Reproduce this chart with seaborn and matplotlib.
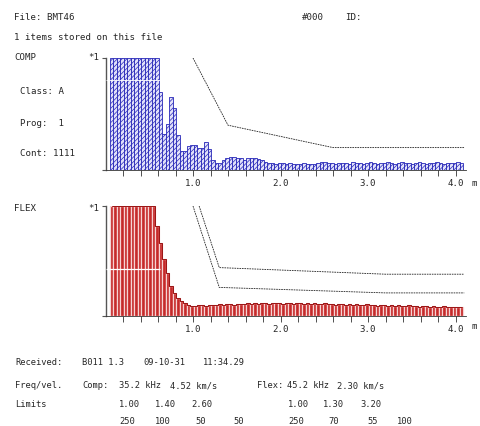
import numpy as np
import pandas as pd
import matplotlib.pyplot as plt
import seaborn as sns

sns.set_style("ticks")
plt.rcParams['font.family'] = ['DejaVu Sans Mono', 'DejaVu Sans']
plt.rcParams['hatch.linewidth'] = 0.5

# --- data ---
bin_start = 0.07   # centre of first bin (m)
bin_width = 0.04

comp = [
    1.00, 1.00, 1.00, 1.00, 1.00, 1.00, 1.00, 1.00, 1.00, 1.00,
    1.00, 1.00, 1.00, 1.00, 0.70, 0.32, 0.41, 0.65, 0.55, 0.31,
    0.17, 0.17, 0.21, 0.22, 0.22, 0.20, 0.20, 0.25, 0.19, 0.09,
    0.06, 0.06, 0.09, 0.11, 0.12, 0.12, 0.11, 0.11, 0.09, 0.11,
    0.11, 0.11, 0.10, 0.09, 0.07, 0.06, 0.06, 0.055, 0.06, 0.06,
    0.055, 0.06, 0.055, 0.05, 0.055, 0.06, 0.055, 0.05, 0.055, 0.06,
    0.07, 0.07, 0.06, 0.06, 0.055, 0.06, 0.065, 0.06, 0.055, 0.07,
    0.065, 0.06, 0.055, 0.06, 0.07, 0.06, 0.055, 0.06, 0.065, 0.07,
    0.06, 0.055, 0.06, 0.07, 0.065, 0.06, 0.055, 0.06, 0.07, 0.06,
    0.055, 0.06, 0.065, 0.07, 0.06, 0.055, 0.06, 0.065, 0.06, 0.07,
    0.06,
]

flex = [
    1.00, 1.00, 1.00, 1.00, 1.00, 1.00, 1.00, 1.00, 1.00, 1.00,
    1.00, 1.00, 1.00, 0.82, 0.66, 0.52, 0.39, 0.27, 0.21, 0.16,
    0.14, 0.12, 0.10, 0.09, 0.09, 0.10, 0.10, 0.09, 0.10, 0.10,
    0.10, 0.11, 0.10, 0.11, 0.11, 0.10, 0.11, 0.11, 0.11, 0.12,
    0.11, 0.12, 0.11, 0.12, 0.12, 0.11, 0.12, 0.12, 0.12, 0.11,
    0.12, 0.12, 0.11, 0.12, 0.12, 0.11, 0.12, 0.11, 0.12, 0.11,
    0.11, 0.12, 0.11, 0.11, 0.10, 0.11, 0.11, 0.10, 0.11, 0.10,
    0.11, 0.10, 0.10, 0.11, 0.10, 0.10, 0.09, 0.10, 0.10, 0.09,
    0.10, 0.09, 0.10, 0.09, 0.09, 0.10, 0.09, 0.09, 0.08, 0.09,
    0.09, 0.08, 0.09, 0.08, 0.08, 0.09, 0.08, 0.08, 0.08, 0.08,
    0.08,
]

# limit curves (fraction of full scale)
comp_lim_x = [1.0, 1.4, 2.6, 4.1]
comp_lim_y = [1.0, 0.40, 0.20, 0.20]
flex_lo_x = [1.0, 1.3, 3.2, 4.1]
flex_lo_y = [1.0, 0.26, 0.21, 0.21]
flex_hi_x = [1.07, 1.3, 3.2, 4.1]
flex_hi_y = [1.0, 0.44, 0.38, 0.38]

tick_pos = [0.2, 0.4, 0.6, 0.8, 1.0, 1.2, 1.4, 1.6, 1.8, 2.0,
            2.2, 2.4, 2.6, 2.8, 3.0, 3.2, 3.4, 3.6, 3.8, 4.0]
tick_lab = {1.0: "1.0", 2.0: "2.0", 3.0: "3.0", 4.0: "4.0"}

dist = np.round(bin_start + bin_width * np.arange(len(comp)), 3)
df = pd.DataFrame({"dist": dist, "comp": comp, "flex": flex})

W, H = 480, 427
fig = plt.figure(figsize=(W / 100, H / 100), dpi=100)


def px_axes(x0, y0, x1, y1):
    return fig.add_axes([x0 / W, 1 - y1 / H, (x1 - x0) / W, (y1 - y0) / H])


def txt(x, y, s, size=6.6, **kw):
    fig.text(x / W, 1 - y / H, s, ha='left', va='center', fontsize=size, **kw)


x0 = 105.5
x1 = x0 + 4.12 * 87.5
ax1 = px_axes(x0, 59, x1, 171)
ax2 = px_axes(x0, 207, x1, 317)

# COMP bars: blue hatched
sns.barplot(data=df, x="dist", y="comp", native_scale=True, orient="x",
            width=1, color="#e2e2fa", saturation=1, edgecolor="#2828b8",
            linewidth=0.6, hatch="///////", errorbar=None, ax=ax1)

# FLEX bars: red with light stripes between bars, dark red stair outline
sns.barplot(data=df, x="dist", y="flex", native_scale=True, orient="x",
            width=1, color="#c62a2a", saturation=1, edgecolor="#f6d2d2",
            linewidth=0.9, errorbar=None, ax=ax2)
sns.lineplot(data=df, x="dist", y="flex", ax=ax2, color="#9a1212", lw=0.7,
             drawstyle="steps-mid", estimator=None, sort=False)

ax1.hlines(0.80, 0.0, 0.62, color="white", lw=0.6, zorder=4)
ax2.hlines(0.43, 0.0, 0.62, color="white", lw=0.9, zorder=4)

ls = (0, (2, 1))
sns.lineplot(x=comp_lim_x, y=comp_lim_y, ax=ax1, color="#222222", lw=0.6,
             linestyle=ls, sort=False, estimator=None)
sns.lineplot(x=flex_lo_x, y=flex_lo_y, ax=ax2, color="#222222", lw=0.6,
             linestyle=ls, sort=False, estimator=None)
sns.lineplot(x=flex_hi_x, y=flex_hi_y, ax=ax2, color="#222222", lw=0.6,
             linestyle=ls, sort=False, estimator=None)

for ax in (ax1, ax2):
    ax.set_xlim(0, 4.12)
    ax.set_ylim(0, 1)
    ax.set_xticks(tick_pos)
    ax.set_xticklabels([tick_lab.get(t, "") for t in tick_pos])
    ax.set_yticks([0, 1])
    ax.set_yticklabels([])
    ax.tick_params(axis="x", length=4, width=0.6, color="#333333",
                   labelsize=6.6, pad=2)
    ax.tick_params(axis="y", length=3, width=0.8, color="#555555")
    ax.set_xlabel("")
    ax.set_ylabel("")
    for s in ("top", "right"):
        ax.spines[s].set_visible(False)
    ax.spines["left"].set_color("#555555")
    ax.spines["left"].set_linewidth(1.0)
    ax.spines["bottom"].set_color("#333333")
    ax.spines["bottom"].set_linewidth(0.6)
    ax.set_zorder(2)

# header / side text
txt(14, 18, "File: BMT46")
txt(302, 18, "#000")
txt(345, 18, "ID:")
txt(14, 38, "1 items stored on this file")
txt(14, 58, "COMP")
txt(88, 58, "*1")
txt(20, 91, "Class: A")
txt(20, 123, "Prog:  1")
txt(20, 154, "Cont: 1111")
txt(14, 209, "FLEX")
txt(88, 209, "*1")
txt(472, 183, "m")
txt(472, 327, "m")

# footer
fs = 6.3
txt(15, 363, "Received:", size=fs)
txt(82, 363, "B011 1.3", size=fs)
txt(143, 363, "09-10-31", size=fs)
txt(203, 363, "11:34.29", size=fs)
txt(15, 386, "Freq/vel.", size=fs)
txt(82, 386, "Comp:", size=fs)
txt(119, 386, "35.2 kHz", size=fs)
txt(170, 386, "4.52 km/s", size=fs)
txt(257, 386, "Flex:", size=fs)
txt(287, 386, "45.2 kHz", size=fs)
txt(337, 386, "2.30 km/s", size=fs)
txt(15, 405, "Limits", size=fs)
for x, s in [(119, "1.00"), (155, "1.40"), (191, "2.60"),
             (288, "1.00"), (323, "1.30"), (360, "3.20")]:
    txt(x, 405, s, size=fs)
for x, s in [(119, "250"), (155, "100"), (195, "50"), (233, "50"),
             (288, "250"), (328, "70"), (367, "55"), (397, "100")]:
    txt(x, 422, s, size=fs)

fig.savefig("out.png", dpi=100)
